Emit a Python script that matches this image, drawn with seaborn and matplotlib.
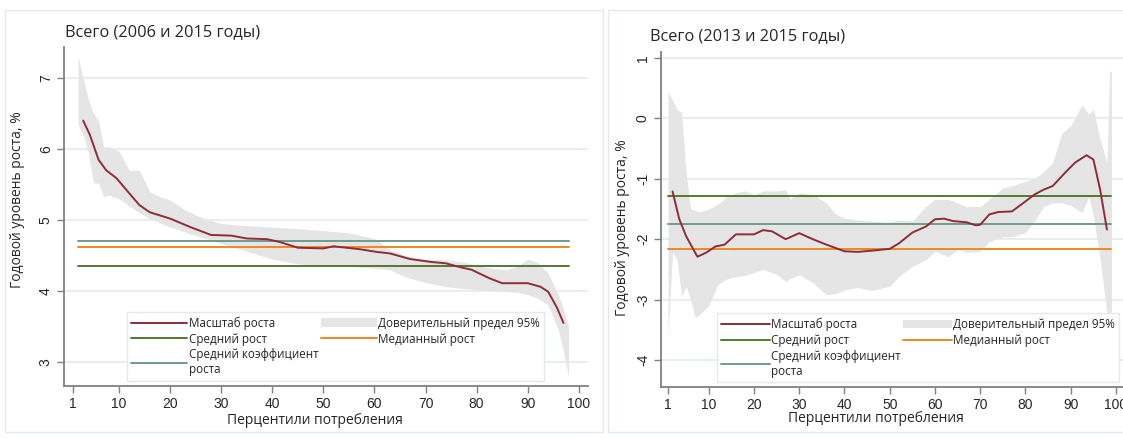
import matplotlib
matplotlib.use("Agg")
import matplotlib.pyplot as plt
from matplotlib.lines import Line2D
from matplotlib.patches import Patch, Rectangle
import seaborn as sns

# ---------------- data ----------------
# Left panel: 2006 and 2015
l_title = "Всего (2006 и 2015 годы)"
l_red_x = [3, 4.3, 6, 7.5, 9.5, 11.5, 14, 16, 20, 24, 28, 32, 35, 39, 41.5, 45, 50, 52, 57, 60.5, 63, 67, 71, 74, 76.5, 79, 82.5, 85, 88, 90, 92.5, 94, 95.7, 97]
l_red_y = [6.4, 6.2, 5.85, 5.7, 5.59, 5.42, 5.21, 5.11, 5.02, 4.9, 4.79, 4.78, 4.74, 4.73, 4.69, 4.61, 4.6, 4.63, 4.59, 4.55, 4.53, 4.45, 4.41, 4.39, 4.34, 4.3, 4.18, 4.11, 4.11, 4.11, 4.06, 3.99, 3.77, 3.55]
l_ci_x = [2, 3, 4, 5, 6, 7, 8, 10, 12, 14, 16, 18, 20, 23, 26, 30, 35, 40, 45, 50, 55, 60, 63, 66, 70, 74, 78, 82, 86, 88, 90, 92, 94, 96, 97, 98]
l_ci_hi = [7.3, 7.0, 6.7, 6.5, 6.4, 6.03, 6.03, 5.97, 5.7, 5.7, 5.4, 5.33, 5.28, 5.14, 5.04, 4.95, 4.92, 4.9, 4.88, 4.85, 4.82, 4.74, 4.58, 4.5, 4.45, 4.44, 4.4, 4.33, 4.3, 4.35, 4.45, 4.4, 4.25, 3.95, 3.75, 3.5]
l_ci_lo = [6.34, 6.2, 5.95, 5.52, 5.52, 5.32, 5.35, 5.3, 5.2, 5.1, 5.02, 4.96, 4.9, 4.83, 4.76, 4.67, 4.56, 4.45, 4.38, 4.36, 4.35, 4.32, 4.3, 4.2, 4.12, 4.06, 4.03, 4.01, 3.99, 3.98, 3.95, 3.9, 3.8, 3.45, 3.15, 2.79]
l_span = [2, 98]
l_mean = 4.35       # Средний рост
l_meancoef = 4.71   # Средний коэффициент роста
l_median = 4.62     # Медианный рост
l_yticks = [3, 4, 5, 6, 7]

# Right panel: 2013 and 2015
r_title = "Всего (2013 и 2015 годы)"
r_red_x = [2, 3.5, 5, 7.5, 9.5, 11.5, 13.5, 16, 20, 22, 24, 27, 30, 33, 36, 40, 43, 46, 50, 52, 55, 58, 60, 62, 64, 67, 69, 70, 72, 74, 77, 79, 82, 84, 86, 89, 91, 93.5, 95, 96.5, 98]
r_red_y = [-1.21, -1.67, -1.95, -2.29, -2.22, -2.12, -2.09, -1.92, -1.92, -1.85, -1.87, -2.0, -1.9, -2.0, -2.09, -2.2, -2.21, -2.19, -2.16, -2.07, -1.89, -1.79, -1.67, -1.66, -1.7, -1.72, -1.77, -1.76, -1.59, -1.55, -1.54, -1.43, -1.26, -1.18, -1.12, -0.88, -0.73, -0.61, -0.68, -1.18, -1.84]
r_ci_x = [1, 2, 3, 4, 5, 6, 7, 8, 10, 12, 14, 16, 18, 20, 22, 25, 27, 28, 30, 33, 36, 38, 40, 43, 46, 50, 52, 55, 58, 60, 63, 65, 67, 70, 72, 75, 77, 80, 82, 84, 86, 88, 90, 92.5, 94, 95, 96.5, 98, 98.6, 99]
r_ci_hi = [0.45, 0.3, 0.15, 0.1, -0.9, -1.5, -1.52, -1.55, -1.5, -1.42, -1.3, -1.23, -1.2, -1.26, -1.2, -1.2, -1.18, -1.34, -1.23, -1.26, -1.4, -1.58, -1.65, -1.68, -1.7, -1.72, -1.68, -1.7, -1.46, -1.34, -1.34, -1.4, -1.46, -1.46, -1.34, -1.15, -1.12, -1.04, -1.0, -0.88, -0.73, -0.25, -0.12, 0.23, 0.07, 0.15, -0.35, -0.73, 0.78, 0.78]
r_ci_lo = [-3.61, -2.22, -2.34, -2.95, -2.78, -3.0, -3.3, -3.25, -3.1, -2.75, -2.66, -2.62, -2.6, -2.55, -2.5, -2.58, -2.7, -2.65, -2.59, -2.72, -2.92, -2.9, -2.84, -2.8, -2.85, -2.78, -2.62, -2.45, -2.34, -2.2, -2.29, -2.17, -2.22, -2.2, -2.04, -1.96, -1.96, -1.89, -1.7, -1.46, -1.4, -1.4, -1.44, -1.56, -1.3, -1.62, -2.34, -3.22, -3.22, -3.22]
r_span = [1, 99]
r_mean = -1.29
r_meancoef = -1.75
r_median = -2.16
r_yticks = [-4, -3, -2, -1, 0, 1]

xticks = [1, 10, 20, 30, 40, 50, 60, 70, 80, 90, 100]
xlabel = "Перцентили потребления"
ylabel = "Годовой уровень роста, %"
legend_labels = ["Масштаб роста", "Средний рост", "Средний коэффициент\nроста",
                 "Доверительный предел 95%", "Медианный рост"]

# ---------------- style ----------------
C_RED = "#8e2c3a"
C_GREEN = "#55782f"
C_TEAL = "#6f9a8c"
C_ORANGE = "#ee8a1e"
C_CI = "#e5e5e5"
C_GRID = "#e6eef1"
C_AXIS = "#808080"

sns.set_theme(style="white")
plt.rcParams["font.family"] = ["Open Sans", "DejaVu Sans"]
plt.rcParams["axes.unicode_minus"] = False

W, H = 1123, 438
fig = plt.figure(figsize=(W / 100, H / 100), dpi=100)

# panel frames
fig.add_artist(Rectangle((5 / W, 6 / H), 598 / W, 422 / H, transform=fig.transFigure,
                         fill=False, edgecolor="#e4eaec", lw=1))
fig.add_artist(Rectangle((608 / W, 6 / H), 520 / W, 422 / H, transform=fig.transFigure,
                         fill=False, edgecolor="#e4eaec", lw=1))

ax_l = fig.add_axes([64 / W, (H - 386) / H, 524 / W, 339 / H])
ax_r = fig.add_axes([661 / W, (H - 387) / H, 462 / W, 335 / H])


def draw(ax, red_x, red_y, ci_x, ci_lo, ci_hi, span, mean, meancoef, median,
         yticks, xlim, ylim, hlen):
    ax.fill_between(ci_x, ci_lo, ci_hi, color=C_CI, lw=0, zorder=1)
    sns.lineplot(x=span, y=[meancoef, meancoef], ax=ax, color=C_TEAL, lw=1.4, zorder=3)
    sns.lineplot(x=span, y=[median, median], ax=ax, color=C_ORANGE, lw=1.4, zorder=3)
    sns.lineplot(x=span, y=[mean, mean], ax=ax, color=C_GREEN, lw=1.4, zorder=3)
    sns.lineplot(x=red_x, y=red_y, ax=ax, color=C_RED, lw=1.4, zorder=4,
                 estimator=None, sort=False)
    ax.set_xlim(*xlim)
    ax.set_ylim(*ylim)
    ax.set_xticks(xticks)
    ax.set_yticks(yticks)
    ax.grid(axis="y", color=C_GRID, lw=1.4, zorder=0)
    ax.set_axisbelow(True)
    for s in ["top", "right"]:
        ax.spines[s].set_visible(False)
    for s in ["left", "bottom"]:
        ax.spines[s].set_color(C_AXIS)
        ax.spines[s].set_linewidth(1.3)
    ax.tick_params(axis="both", direction="out", length=5, width=1, color=C_AXIS,
                   labelsize=10, pad=3, left=True, bottom=True)
    for lab in ax.get_xticklabels():
        lab.set_fontfamily(["Liberation Sans", "DejaVu Sans"])
    for lab in ax.get_yticklabels():
        lab.set_fontfamily(["Liberation Sans", "DejaVu Sans"])
        lab.set_rotation(90)
        lab.set_va("center")
    ax.set_xlabel("")
    ax.set_ylabel("")

    handles = [Line2D([], [], color=C_RED, lw=1.4),
               Line2D([], [], color=C_GREEN, lw=1.4),
               Line2D([], [], color=C_TEAL, lw=1.4),
               Patch(facecolor=C_CI, edgecolor="none"),
               Line2D([], [], color=C_ORANGE, lw=1.4)]
    leg = ax.legend(handles, legend_labels, ncol=2, loc="lower left",
                    bbox_to_anchor=(0.121, 0.016), frameon=True, fancybox=False,
                    edgecolor="#e3eaec", framealpha=1, facecolor="white",
                    handlelength=hlen, handletextpad=0.1, columnspacing=0.2,
                    labelspacing=0.25, borderpad=0.35, fontsize=8.4, borderaxespad=0)
    leg.get_frame().set_linewidth(1)
    leg.set_zorder(5)


draw(ax_l, l_red_x, l_red_y, l_ci_x, l_ci_lo, l_ci_hi, l_span, l_mean, l_meancoef,
     l_median, l_yticks, (-0.76, 101.8), (2.662, 7.437), 4.8)
draw(ax_r, r_red_x, r_red_y, r_ci_x, r_ci_lo, r_ci_hi, r_span, r_mean, r_meancoef,
     r_median, r_yticks, (-0.55, 101.55), (-4.447, 1.099), 4.2)

# titles and axis labels
fig.text(65 / W, 1 - 32 / H, l_title, fontsize=11.8, ha="left", va="center")
fig.text(650 / W, 1 - 36 / H, r_title, fontsize=11.8, ha="left", va="center")
fig.text(18 / W, 1 - 200 / H, ylabel, fontsize=10, rotation=90, ha="center", va="center")
fig.text(622 / W, 1 - 228 / H, ylabel, fontsize=10, rotation=90, ha="center", va="center")
fig.text(315 / W, 1 - 421 / H, xlabel, fontsize=10, ha="center", va="center")
fig.text(876 / W, 1 - 419 / H, xlabel, fontsize=10, ha="center", va="center")

fig.savefig("out.png", dpi=100)
